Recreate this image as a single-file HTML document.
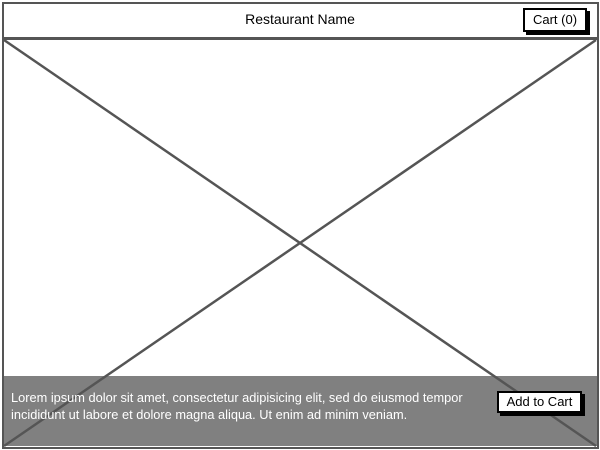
<!DOCTYPE html>
<html><head><meta charset="utf-8"><style>
body{margin:0;width:600px;height:450px;background:#fff;position:relative;overflow:hidden;font-family:"Liberation Sans",sans-serif}
.abs{position:absolute;box-sizing:border-box}
.btn{background:#fff;border:2px solid #000;box-shadow:3px 3px 0 #000;font-size:13px;text-align:center}
</style></head><body>
<div class="abs" style="left:2px;top:2px;width:597px;height:37px;border:2px solid #555;"></div>
<div class="abs" style="left:0;top:11px;width:600px;text-align:center;font-size:14px;color:#000">Restaurant Name</div>
<div class="abs btn" style="left:523px;top:8px;width:64px;height:24px;line-height:20px">Cart (0)</div>
<div class="abs" style="left:2px;top:38px;width:597px;height:411px;border:2px solid #555;"></div>
<div class="abs" style="left:4px;top:376px;width:593px;height:70px;background:#808080"></div>
<svg class="abs" style="left:0;top:0" width="600" height="450">
<line x1="4" y1="40" x2="596" y2="446" stroke="#555" stroke-width="2.5"/>
<line x1="596" y1="40" x2="4" y2="446" stroke="#555" stroke-width="2.5"/>
</svg>
<div class="abs" style="left:11px;top:389px;width:480px;color:#fff;font-size:12.8px;line-height:17px;white-space:nowrap">Lorem ipsum dolor sit amet, consectetur adipisicing elit, sed do eiusmod tempor<br>incididunt ut labore et dolore magna aliqua. Ut enim ad minim veniam.</div>
<div class="abs btn" style="left:497px;top:391px;width:85px;height:22px;line-height:18px">Add to Cart</div>
</body></html>
